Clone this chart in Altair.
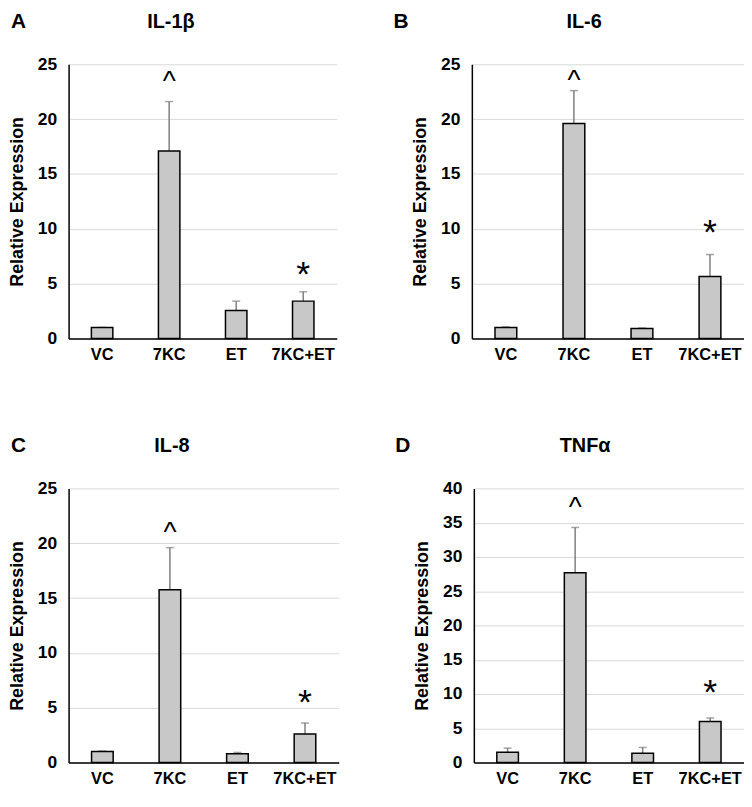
import altair as alt
import pandas as pd

# ---------------- data ----------------
groups = ["VC", "7KC", "ET", "7KC+ET"]
panel_letters = ["A", "B", "C", "D"]
cytokines = ["IL-1β", "IL-6", "IL-8", "TNFα"]

il1b_mean = [1.0, 17.1, 2.55, 3.4]
il1b_sem = [0.0, 4.5, 0.85, 0.85]
il6_mean = [1.0, 19.6, 0.9, 5.65]
il6_sem = [0.05, 3.0, 0.05, 2.0]
il8_mean = [1.0, 15.75, 0.8, 2.6]
il8_sem = [0.05, 3.85, 0.12, 1.0]
tnfa_mean = [1.5, 27.7, 1.35, 6.0]
tnfa_sem = [0.6, 6.6, 0.85, 0.5]

y_max = [25, 25, 25, 40]

# significance symbols: "^" over 7KC, "*" over 7KC+ET (y = visual centre)
caret_group = "7KC"
star_group = "7KC+ET"
caret_y = [23.9, 24.0, 21.5, 38.0]
star_y = [6.65, 10.5, 6.3, 11.6]

means = [il1b_mean, il6_mean, il8_mean, tnfa_mean]
sems = [il1b_sem, il6_sem, il8_sem, tnfa_sem]

FONT = "Liberation Sans"
ERR_COLOR = "#7f7f7f"
BAR_FILL = "#c8c8c8"


def panel(i, width, height, letter_x, title_x):
    df = pd.DataFrame({
        "group": groups,
        "mean": means[i],
        "upper": [m + s for m, s in zip(means[i], sems[i])],
    })
    ann = pd.DataFrame({
        "group": [caret_group, star_group],
        "sym": ["^", "*"],
        "y": [caret_y[i], star_y[i]],
    })
    x = alt.X(
        "group:N", sort=groups,
        scale=alt.Scale(paddingInner=0.68, paddingOuter=0.34),
        axis=alt.Axis(title=None, labelAngle=0, ticks=False, tickSize=0,
                      labelPadding=8, labelFontSize=16.5, labelFontWeight="bold",
                      labelColor="black", labelFont=FONT,
                      domainColor="black", domainWidth=1.5, grid=False),
    )
    yscale = alt.Scale(domain=[0, y_max[i]], nice=False, zero=True)
    yaxis = alt.Axis(values=list(range(0, y_max[i] + 1, 5)), title="Relative Expression",
                     ticks=False, tickSize=0, labelPadding=12, titlePadding=11,
                     labelFontSize=17.5, labelFontWeight="bold", labelColor="black",
                     labelFont=FONT, titleFont=FONT, titleFontSize=18,
                     titleFontWeight="bold", titleColor="black",
                     domainColor="black", domainWidth=1.5,
                     grid=True, gridColor="#d9d9d9", gridWidth=1)

    base = alt.Chart(df)
    err = base.mark_rule(color=ERR_COLOR, strokeWidth=1.5).encode(
        x=x, y=alt.Y("mean:Q", scale=yscale, axis=yaxis), y2="upper:Q")
    cap = base.mark_tick(color=ERR_COLOR, size=8, thickness=1.5).encode(
        x=x, y=alt.Y("upper:Q", scale=yscale, axis=yaxis))
    bars = base.mark_bar(fill=BAR_FILL, stroke="black", strokeWidth=1.5).encode(
        x=x, y=alt.Y("mean:Q", scale=yscale, axis=yaxis))

    caret = alt.Chart(ann).transform_filter(alt.datum.sym == "^").mark_text(
        font=FONT, fontSize=28, baseline="middle", dy=6, color="black").encode(
        x=x, y=alt.Y("y:Q", scale=yscale, axis=yaxis), text="sym:N")
    star = alt.Chart(ann).transform_filter(alt.datum.sym == "*").mark_text(
        font=FONT, fontSize=36, baseline="middle", dy=10, color="black").encode(
        x=x, y=alt.Y("y:Q", scale=yscale, axis=yaxis), text="sym:N")

    letter = alt.Chart(pd.DataFrame({"t": [panel_letters[i]]})).mark_text(
        font=FONT, fontSize=21, fontWeight="bold", align="left", baseline="middle",
        color="black").encode(text="t:N", x=alt.value(letter_x), y=alt.value(-43))
    title = alt.Chart(pd.DataFrame({"t": [cytokines[i]]})).mark_text(
        font=FONT, fontSize=20, fontWeight="bold", align="center", baseline="middle",
        color="black").encode(text="t:N", x=alt.value(title_x), y=alt.value(-43))

    return alt.layer(err, cap, bars, caret, star, letter, title).properties(
        width=width, height=height)


pA = panel(0, 270, 276, -58, 103)
pB = panel(1, 274, 276, -79, 113)
pC = panel(2, 272, 276, -58, 104)
pD = panel(3, 272, 276, -79, 112)

top = alt.hconcat(pA, pB, spacing=57)
bottom = alt.hconcat(pC, pD, spacing=57)

chart = alt.vconcat(top, bottom, spacing=72).properties(
    padding=0, background="white"
).configure_view(strokeWidth=0)

chart.save("out.html", embed_options={"renderer": "svg", "actions": False})
